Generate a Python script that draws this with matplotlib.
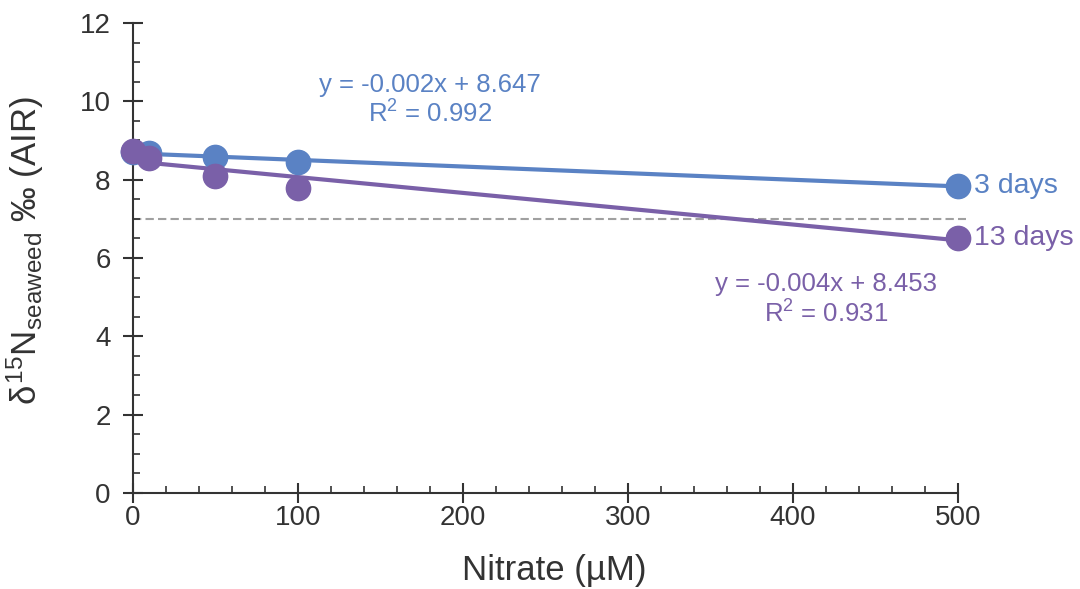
import numpy as np
import matplotlib
matplotlib.use("Agg")
import matplotlib.pyplot as plt
from matplotlib.ticker import MultipleLocator

plt.rcParams['font.family'] = ['Liberation Sans', 'DejaVu Sans']
plt.rcParams['mathtext.fontset'] = 'custom'
plt.rcParams['mathtext.rm'] = 'Liberation Sans'
plt.rcParams['mathtext.it'] = 'Liberation Sans'

# data
nitrate = [0, 10, 50, 100, 500]
d15n_3days = [8.71, 8.68, 8.57, 8.45, 7.84]
d15n_13days = [8.72, 8.55, 8.10, 7.79, 6.52]
series_names = ['3 days', '13 days']
fit_text = ['y = -0.002x + 8.647\nR$^2$ = 0.992',
            'y = -0.004x + 8.453\nR$^2$ = 0.931']
threshold = 7.0

blue = '#5a82c4'
purple = '#7a60a8'
dark = '#333333'

fig = plt.figure(figsize=(10.8, 5.89), dpi=100)
ax = fig.add_axes([0.123, 0.163, 0.764, 0.798])

xs = np.array(nitrate, dtype=float)
for ys, col in [(d15n_3days, blue), (d15n_13days, purple)]:
    m, b = np.polyfit(xs, ys, 1)
    ax.plot([0, 500], [b, b + m * 500], color=col, lw=3, zorder=2, clip_on=False)
    ax.plot(xs, ys, 'o', color=col, ms=17.5, zorder=3, clip_on=False)

ax.plot([0, 505], [threshold, threshold], ls=(0, (4, 2)), color='#a0a0a0', lw=1.5,
        zorder=1, clip_on=False)

ax.text(510, d15n_3days[-1], series_names[0], color=blue, fontsize=20.5, va='center', ha='left')
ax.text(510, d15n_13days[-1], series_names[1], color=purple, fontsize=20.5, va='center', ha='left')

ax.text(180, 10.03, fit_text[0], color=blue, fontsize=18.5, ha='center', va='center',
        linespacing=1.17)
ax.text(420, 4.93, fit_text[1], color=purple, fontsize=18.5, ha='center', va='center',
        linespacing=1.17)

ax.set_xlim(0, 500)
ax.set_ylim(0, 12)
ax.xaxis.set_major_locator(MultipleLocator(100))
ax.xaxis.set_minor_locator(MultipleLocator(20))
ax.yaxis.set_major_locator(MultipleLocator(2))
ax.yaxis.set_minor_locator(MultipleLocator(0.5))

for s in ['top', 'right']:
    ax.spines[s].set_visible(False)
for s in ['left', 'bottom']:
    ax.spines[s].set_linewidth(1.5)
    ax.spines[s].set_color(dark)

ax.tick_params(which='major', direction='inout', length=14, width=1.5, color=dark,
               labelsize=20, labelcolor=dark)
ax.tick_params(axis='y', which='major', pad=9)
ax.tick_params(axis='x', which='major', pad=2)
ax.tick_params(which='minor', direction='in', length=5, width=1.2, color=dark)

ax.set_xlabel('Nitrate (µM)', fontsize=25, color=dark, labelpad=16)
ax.xaxis.set_label_coords(0.511, -0.13)
ax.set_ylabel(r'$\delta^{15}\mathrm{N}_{\mathrm{seaweed}}$ ‰ (AIR)', fontsize=25,
              color=dark, labelpad=10)
ax.yaxis.set_label_coords(-0.105, 0.515)

fig.savefig('out.png', dpi=100)
